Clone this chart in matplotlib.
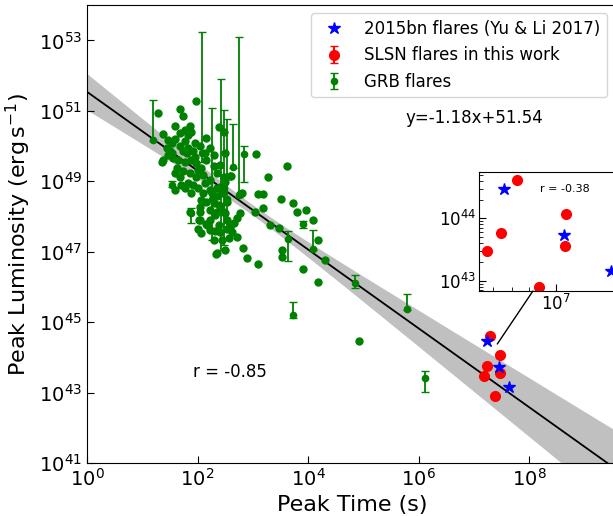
import numpy as np
import matplotlib.pyplot as plt
from matplotlib.patches import ConnectionPatch
from matplotlib.ticker import NullLocator, FixedLocator, LogLocator, NullFormatter

# fit line as it is drawn in the figure: log L = a * log t + b
fit_slope = -1.12
fit_icpt = 51.54
fit_label = 'y=-1.18x+51.54'
# confidence band (half width in dex): min width, centre, growth
band_w0 = 0.15
band_x0 = 3.0
band_k = 0.027

# GRB flares without visible error bars (log10 t, log10 L)
grb_logt = [1.29, 1.68, 1.74, 1.98, 1.37, 1.47, 1.60, 1.59, 1.86, 1.89, 1.77, 1.68, 1.83, 1.95,
            2.16, 2.23, 2.38, 2.48, 1.44, 1.50, 1.68, 1.74, 1.83, 1.92, 2.04, 2.13, 2.29, 2.50,
            3.06, 1.38, 1.35, 1.56, 1.65, 1.77, 1.89, 1.98, 2.07, 2.16, 2.29, 2.41, 1.62, 1.74,
            1.86, 1.98, 2.10, 2.23, 2.35, 2.47, 2.59, 1.59, 1.68, 1.70, 1.59, 1.92, 2.01, 2.10,
            2.23, 2.35, 1.89, 2.07, 2.16, 2.29, 2.04, 2.23, 2.35, 2.50, 2.04, 2.04, 2.01, 2.15,
            2.32, 2.41, 2.53, 2.62, 2.29, 2.44, 2.56, 2.50, 2.33, 2.71, 2.83, 2.89, 3.09, 3.52,
            3.52, 3.90, 2.77, 2.71, 3.04, 3.19, 3.31, 3.47, 3.73, 3.79, 3.96, 4.09, 4.17, 4.30,
            3.61, 3.28, 3.50, 3.10, 3.18, 2.77, 2.80, 2.60, 2.50, 2.41, 2.35, 2.26, 2.44, 2.53,
            2.38, 2.47, 2.32, 2.23, 2.53, 2.65, 2.59, 2.38, 2.23, 2.07, 1.53, 1.53, 1.47, 1.77,
            1.80, 1.95, 2.01, 2.13, 1.83, 1.77, 4.18, 4.92, 1.86, 2.03, 2.17, 2.35]
grb_logL = [50.95, 51.05, 50.84, 51.28, 50.34, 50.18, 50.58, 50.20, 50.57, 50.41, 50.46, 50.36, 50.32, 50.08,
            50.22, 49.94, 50.54, 50.41, 49.94, 49.85, 49.99, 49.85, 49.94, 49.85, 49.99, 49.80, 49.75, 49.80,
            49.78, 49.61, 49.56, 49.66, 49.61, 49.56, 49.61, 49.51, 49.37, 49.61, 49.42, 49.46, 49.37, 49.28,
            49.23, 49.13, 49.18, 49.04, 49.23, 49.13, 49.16, 49.23, 49.13, 48.90, 48.74, 48.90, 48.80, 48.66,
            48.76, 48.80, 48.66, 48.47, 48.42, 48.38, 48.28, 48.19, 48.14, 48.09, 48.14, 47.90, 47.64, 47.79,
            47.60, 47.57, 47.64, 47.57, 47.34, 47.34, 47.38, 47.05, 46.93, 47.43, 47.10, 46.81, 46.65, 47.05,
            46.84, 46.50, 48.09, 47.95, 48.14, 48.24, 47.76, 47.67, 48.38, 48.14, 48.17, 47.90, 47.34, 46.77,
            49.42, 49.12, 48.50, 48.64, 48.63, 48.63, 48.66, 49.15, 48.97, 48.85, 48.57, 48.66, 48.66, 48.42,
            48.33, 48.14, 48.04, 47.90, 47.90, 47.81, 47.71, 47.76, 47.62, 47.52, 50.08, 49.80, 49.75, 50.13,
            49.80, 49.70, 49.32, 48.94, 48.94, 48.80, 46.14, 44.47, 48.13, 47.90, 47.76, 46.97]

# GRB flares with error bars: log t, log L, lower and upper end of the bar
grbe_logt = [1.19, 2.08, 2.26, 2.42, 2.48, 2.53, 2.75, 2.64, 2.84, 1.53, 1.88, 3.91, 3.63, 4.09,
             4.85, 5.79, 6.11, 3.73]
grbe_logL = [50.18, 49.81, 48.50, 48.30, 48.80, 48.50, 48.61, 49.41, 49.78, 48.90, 48.11, 47.79,
             47.36, 47.08, 46.11, 45.38, 43.41, 45.20]
grbe_lo = [50.15, 49.55, 47.34, 47.05, 47.19, 47.62, 48.56, 49.38, 48.98, 48.85, 47.81, 47.68,
           46.74, 47.05, 45.97, 45.35, 43.02, 45.12]
grbe_hi = [51.31, 53.24, 51.09, 51.91, 51.03, 50.77, 53.10, 50.63, 50.01, 49.00, 48.24, 47.88,
           47.59, 47.62, 46.34, 45.80, 43.61, 45.57]

# SLSN flares (this work) and SN 2015bn flares (Yu & Li 2017)
slsn_logt = [7.29, 7.47, 7.23, 7.47, 7.18, 7.38]
slsn_logL = [44.61, 44.07, 43.76, 43.56, 43.47, 42.90]
bn_logt = [7.23, 7.45, 7.63]
bn_logL = [44.47, 43.73, 43.16]

# values as plotted in the inset
ins_slsn_logt = [6.863, 7.035, 6.805, 7.032, 6.757, 6.938]
ins_bn_logt = [6.815, 7.026, 7.19]

fig = plt.figure(figsize=(6.13, 5.16), dpi=100)
ax = fig.add_axes([0.1419, 0.1027, 0.866, 0.8873])

xx = np.linspace(0, 9.6, 200)
yy = fit_slope * xx + fit_icpt
hw = np.sqrt(band_w0**2 + band_k * (xx - band_x0)**2)
ax.fill_between(10**xx, 10**(yy - hw), 10**(yy + hw), color='silver', lw=0, zorder=1)
ax.plot(10**xx, 10**yy, color='black', lw=1.3, zorder=2)

L = 10**np.array(grbe_logL)
yerr = [L - 10**np.array(grbe_lo), 10**np.array(grbe_hi) - L]
h_grb = ax.errorbar(10**np.array(grbe_logt), L, yerr=yerr, fmt='o', color='green', ms=4.5,
                    capsize=3, elinewidth=1.3, label='GRB flares', zorder=3)
ax.plot(10**np.array(grb_logt), 10**np.array(grb_logL), 'o', color='green', ms=5, zorder=3)

h_slsn = ax.errorbar(10**np.array(slsn_logt), 10**np.array(slsn_logL), yerr=0 * np.array(slsn_logL),
                     fmt='o', color='red', ms=7, capsize=3, label='SLSN flares in this work', zorder=4)
h_bn, = ax.plot(10**np.array(bn_logt), 10**np.array(bn_logL), '*', color='blue', ms=9,
                label='2015bn flares (Yu & Li 2017)', ls='none', zorder=5)

ax.set_xscale('log')
ax.set_yscale('log')
ax.set_xlim(1, 10**9.6)
ax.set_ylim(1e41, 1e54)
ax.xaxis.set_major_locator(FixedLocator([1, 1e2, 1e4, 1e6, 1e8]))
ax.yaxis.set_major_locator(FixedLocator([1e41, 1e43, 1e45, 1e47, 1e49, 1e51, 1e53]))
ax.xaxis.set_minor_locator(NullLocator())
ax.yaxis.set_minor_locator(NullLocator())
ax.tick_params(direction='in', length=5, labelsize=14)
ax.set_xlabel('Peak Time (s)', fontsize=16)
ax.set_ylabel(r'Peak Luminosity ($\rm erg\,s^{-1}$)', fontsize=16)

ax.text(10**5.75, 10**50.8, fit_label, fontsize=12, va='center')
ax.text(10**1.92, 10**43.59, 'r = -0.85', fontsize=12, va='center')

ax.legend(handles=[h_bn, h_slsn, h_grb], loc='upper right', bbox_to_anchor=(0.99, 0.974),
          bbox_transform=fig.transFigure, fontsize=12, borderaxespad=0)

# inset
axi = fig.add_axes([0.7819, 0.436, 0.228, 0.230])
axi.plot(10**np.array(ins_slsn_logt), 10**np.array(slsn_logL), 'o', color='red', ms=7)
axi.plot(10**np.array(ins_bn_logt), 10**np.array(bn_logL), '*', color='blue', ms=9)
axi.set_xscale('log')
axi.set_yscale('log')
axi.set_xlim(10**6.73, 10**7.22)
axi.set_ylim(10**42.835, 10**44.74)
axi.xaxis.set_major_locator(FixedLocator([1e7]))
axi.xaxis.set_minor_locator(LogLocator(subs=np.arange(2, 10)))
axi.xaxis.set_minor_formatter(NullFormatter())
axi.yaxis.set_major_locator(FixedLocator([1e43, 1e44]))
axi.yaxis.set_minor_locator(LogLocator(subs=np.arange(2, 10)))
axi.yaxis.set_minor_formatter(NullFormatter())
axi.tick_params(which='both', direction='in', labelsize=12, pad=2)
axi.tick_params(which='major', length=5)
axi.tick_params(which='minor', length=3)
axi.text(10**7.03, 10**44.47, 'r = -0.38', fontsize=8, ha='center', va='center')

con = ConnectionPatch(xyA=(10**6.918, 10**42.835), coordsA=axi.transData,
                      xyB=(10**7.42, 10**44.38), coordsB=ax.transData, color='black', lw=1)
fig.add_artist(con)

fig.savefig('out.png', dpi=100)
